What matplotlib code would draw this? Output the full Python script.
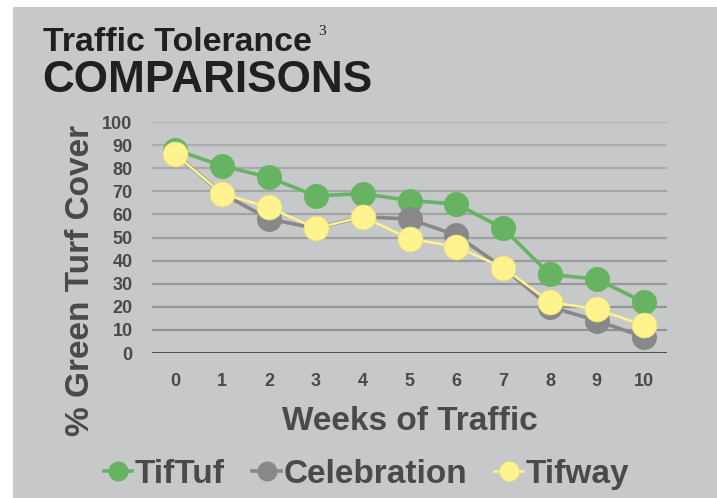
import numpy as np
import matplotlib
matplotlib.use('Agg')
import matplotlib.pyplot as plt
from matplotlib.patches import Rectangle

plt.rcParams['font.family'] = ['Liberation Sans', 'DejaVu Sans']

weeks = [0, 1, 2, 3, 4, 5, 6, 7, 8, 9, 10]
tiftuf = [88, 81, 76, 68, 69, 66, 64.5, 54, 34, 32, 22]
celebration = [86, 69, 58, 54, 59, 58, 51, 37, 20, 14, 7]
tifway = [86, 69, 63, 54, 59, 49.5, 46, 37, 22, 19, 12]
yticks = [0, 10, 20, 30, 40, 50, 60, 70, 80, 90, 100]

bg = '#c7c8ca'
txt = '#4a4a4a'

fig = plt.figure(figsize=(7.17, 4.98), dpi=100)
fig.patch.set_facecolor('white')
fig.patches.append(Rectangle((13 / 717, 0), 1, 1 - 7 / 498, transform=fig.transFigure,
                             facecolor=bg, edgecolor='none', zorder=-5))

ax = fig.add_axes([152 / 717, 1 - 353 / 498, 515 / 717, 231 / 498])
ax.set_facecolor('none')
for s in ax.spines.values():
    s.set_visible(False)

# gridlines, a bit darker toward the bottom
for v in yticks[1:]:
    c = 0.69 - (100 - v) / 100 * 0.13
    ax.axhline(v, color=(c, c, c + 0.01), lw=1.6, zorder=1)
ax.axhline(0, color='#4f4f4f', lw=2.2, zorder=1)

ax.plot(weeks, tiftuf, color='#66b462', lw=2.6, marker='o', ms=18, mec='none',
        label='TifTuf', zorder=3, clip_on=False)
ax.plot(weeks, celebration, color='#888888', lw=2.6, marker='o', ms=18, mec='none',
        label='Celebration', zorder=4, clip_on=False)
ax.plot(weeks, tifway, color='#fef48f', lw=1.8, marker='o', ms=18, mec='#e8dc78', mew=0.5,
        label='Tifway', zorder=5, clip_on=False)

ax.set_xlim(-0.5, 10.5)
ax.set_ylim(0, 100)
ax.set_xticks(weeks)
ax.set_yticks(yticks)
ax.tick_params(length=0, labelsize=13, labelcolor=txt)
ax.tick_params(axis='y', pad=14)
ax.tick_params(axis='x', pad=14.5)
for lab in ax.get_xticklabels() + ax.get_yticklabels():
    lab.set_fontweight('bold')

ax.set_xlabel('Weeks of Traffic', fontsize=24, fontweight='bold', color=txt)
ax.xaxis.set_label_coords(0.5, -0.228)
ax.set_ylabel('% Green Turf Cover', fontsize=24, fontweight='bold', color=txt)
ax.yaxis.set_label_coords(-0.108, 0.316)

leg = fig.legend(loc='center left', bbox_to_anchor=(104 / 717, 1 - 474 / 498), ncol=3,
                 frameon=False, fontsize=24, markerscale=0.8, handlelength=0.85,
                 handletextpad=0.08, columnspacing=0.82, borderaxespad=0, borderpad=0)
for t in leg.get_texts():
    t.set_fontweight('bold')
    t.set_color(txt)

fig.text(43 / 717, 1 - 51 / 498, 'Traffic Tolerance', fontsize=24.4, fontweight='bold',
         color='#221f20', va='baseline', ha='left')
fig.text(318 / 717, 1 - 35 / 498, '3', fontsize=11, family='Liberation Serif',
         color='#221f20', va='baseline', ha='left')
fig.text(42 / 717, 1 - 92 / 498, 'COMPARISONS', fontsize=31.8, fontweight='bold',
         color='#221f20', va='baseline', ha='left')

fig.savefig('out.png', dpi=100, facecolor=fig.get_facecolor())
